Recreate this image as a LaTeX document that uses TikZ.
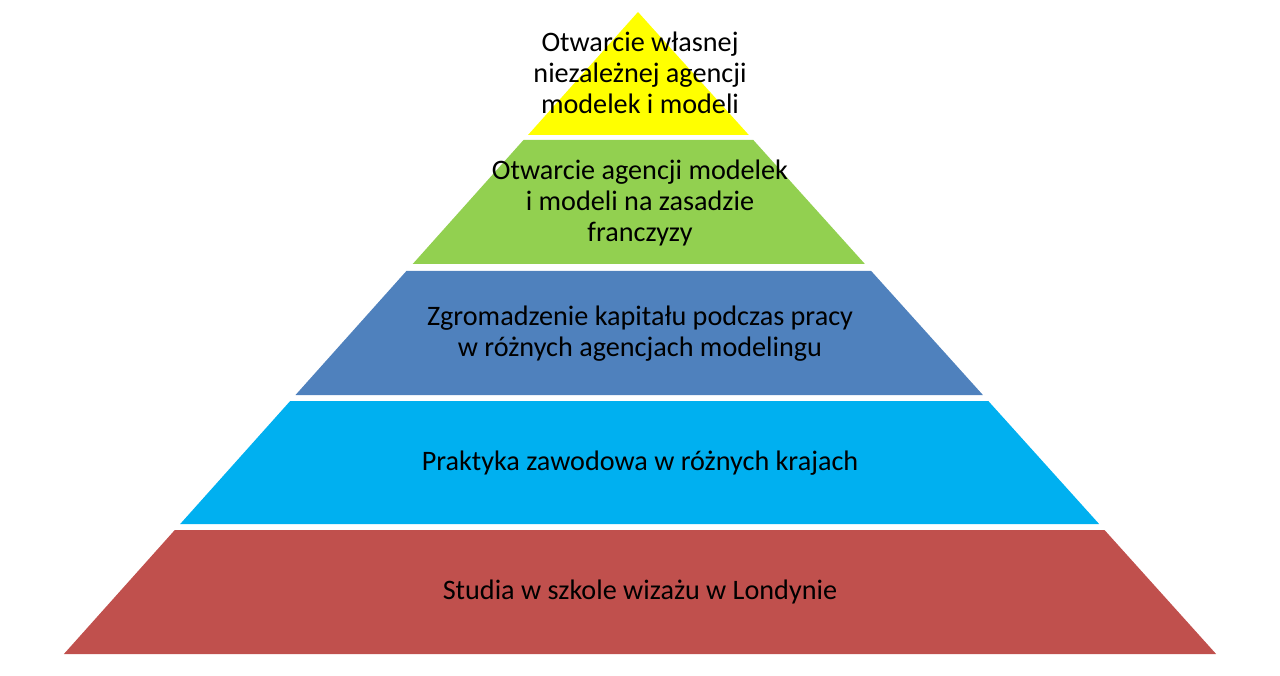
\documentclass[tikz,border=0pt]{standalone}
\usepackage{fontspec}
\setmainfont{Carlito}
\definecolor{cyellow}{HTML}{FFFF00}
\definecolor{cgreen}{HTML}{92D050}
\definecolor{cblue}{HTML}{4F81BD}
\definecolor{ccyan}{HTML}{00B0F0}
\definecolor{cred}{HTML}{C0504D}
\begin{document}
\begin{tikzpicture}[x=1pt,y=-1pt,
  lbl/.style={align=center,font=\fontsize{28.2}{30.8}\selectfont,text=black,inner sep=0pt}]
\useasboundingbox (0,0) rectangle (1280,676);
\fill[cyellow] (638,12) -- (748.8,135) -- (528.0,135) -- cycle;
\fill[cgreen] (523.5,140) -- (753.3,140) -- (864.9,264) -- (412.7,264) -- cycle;
\fill[cblue] (406.4,271) -- (871.2,271) -- (982.9,395) -- (295.5,395) -- cycle;
\fill[ccyan] (290.2,401) -- (988.3,401) -- (1099.1,524) -- (180.2,524) -- cycle;
\fill[cred] (174.8,530) -- (1104.5,530) -- (1216.1,654) -- (63.9,654) -- cycle;
\node[lbl] (t1) at (640,73) {Otwarcie własnej\\niezależnej agencji\\modelek i modeli};
\node[lbl] (t2) at (640,203) {Otwarcie agencji modelek\\i modeli na zasadzie\\franczyzy};
\node[lbl] (t3) at (640,334) {Zgromadzenie kapitału podczas pracy\\w różnych agencjach modelingu};
\node[lbl] (t4) at (640,463) {Praktyka zawodowa w różnych krajach};
\node[lbl] (t5) at (640,592) {Studia w szkole wizażu w Londynie};
\end{tikzpicture}
\end{document}
